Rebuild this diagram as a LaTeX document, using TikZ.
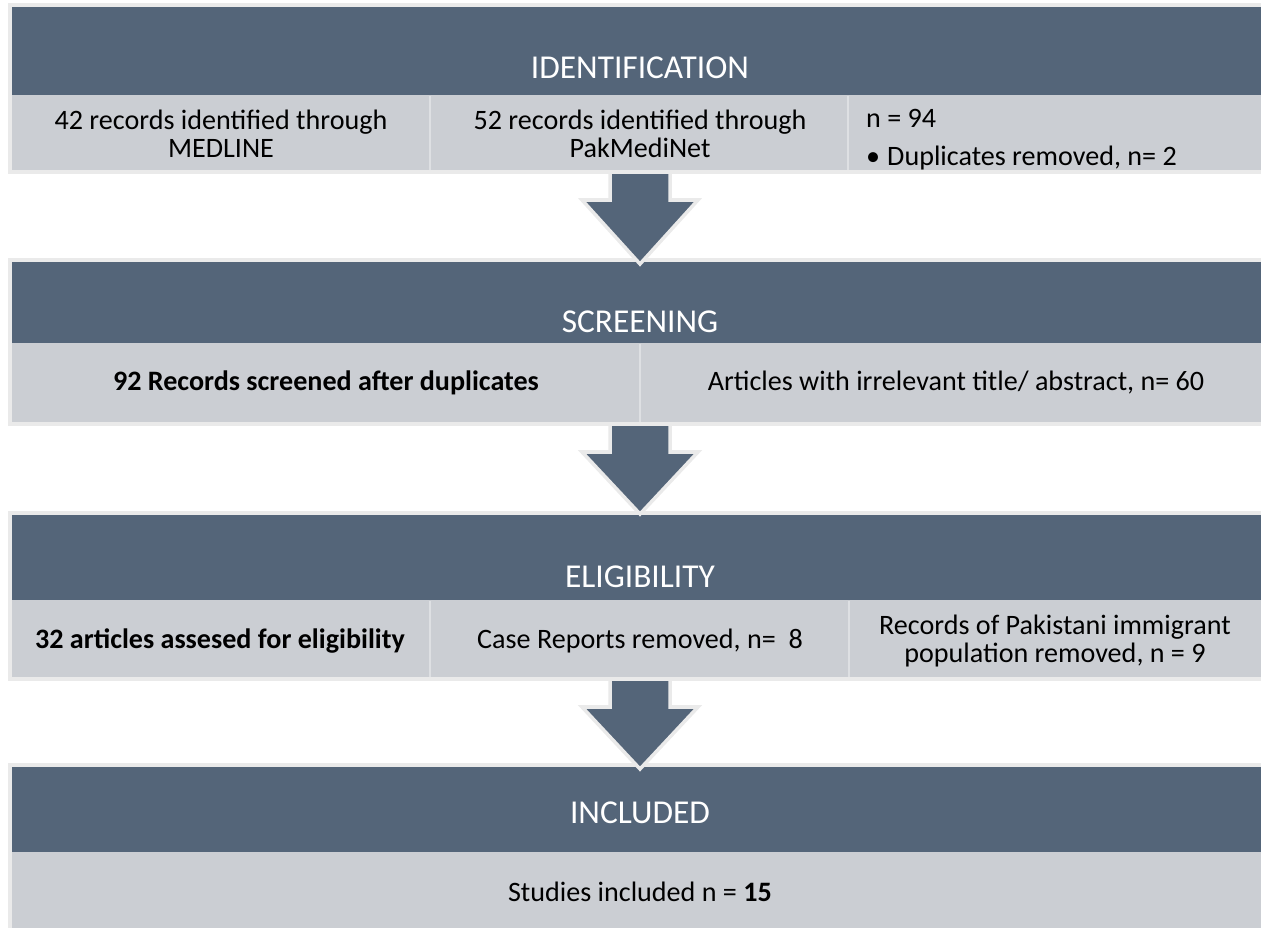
\documentclass[tikz,border=0pt]{standalone}
\usepackage{fontspec}
\setmainfont{Carlito}
\definecolor{bandblue}{RGB}{84,101,121}
\definecolor{cellgrey}{RGB}{203,206,211}
\definecolor{edgegrey}{RGB}{234,234,234}
\definecolor{rulegrey}{RGB}{222,224,227}

\begin{document}
\begin{tikzpicture}[x=0.02cm, y=-0.02cm, font=\fontsize{16}{15.8}\selectfont,
		title/.style={text=white, font=\fontsize{19}{20}\selectfont},
		cell/.style={align=center, text=black},
		sep/.style={draw=rulegrey, line width=1.6pt}]
		\useasboundingbox (0,0) rectangle (1261,928);
		% bands: frame, dark title strip, grey row
		\foreach \t/\m/\b in {3/95/174, 258/343/426, 511/600/681, 763/852/932} {
			\fill[edgegrey] (8,\t) rectangle (1261,\b);
			\fill[bandblue] (12,\t+4) rectangle (1261,\m);
			\fill[cellgrey] (12,\m) rectangle (1261,\b-4);
		}
		\draw[sep] (430,96) -- (430,170);
		\draw[sep] (848,96) -- (848,170);
		\draw[sep] (640,344) -- (640,422);
		\draw[sep] (430,601) -- (430,677);
		\draw[sep] (849,601) -- (849,677);
		% block arrows
		\foreach \t/\b in {172/264, 424/514, 679/769} {
			\filldraw[fill=bandblue, draw=edgegrey, line width=2pt] (610,\t) -- (670,\t) -- (670,\t+28) -- (698,\t+28) -- (640,\b) -- (582,\t+28) -- (610,\t+28) -- cycle;
		}
		
		\node[title] (idhead) at (640, 68) {IDENTIFICATION};
		\node[cell] (idmed) at (221, 134) {42 records identified through\\MEDLINE};
		\node[cell] (idpak) at (640, 134) {52 records identified through\\PakMediNet};
		\node[anchor=west] (idtotal) at (860, 118) {n = 94};
		\node[anchor=west] (iddup) at (860, 158) {\textbullet\hspace{0.25em}Duplicates removed, n= 2};
		
		\node[title] (scrhead) at (640, 322) {SCREENING};
		\node[cell] (scrleft) at (326, 383) {\textbf{92 Records screened after duplicates}};
		\node[cell] (scrright) at (956, 383) {Articles with irrelevant title/ abstract, n= 60};
		
		\node[title] (elhead) at (640, 577) {ELIGIBILITY};
		\node[cell] (elleft) at (220, 641) {\textbf{32 articles assesed for eligibility}};
		\node[cell] (elmid) at (640, 641) {Case Reports removed, n=\ \ 8};
		\node[cell] (elright) at (1055, 641) {Records of Pakistani immigrant\\population removed, n = 9};
		
		\node[title] (inchead) at (640, 813) {INCLUDED};
		\node[cell] (incrow) at (640, 892) {Studies included n = \textbf{15}};
	\end{tikzpicture}
\end{document}
